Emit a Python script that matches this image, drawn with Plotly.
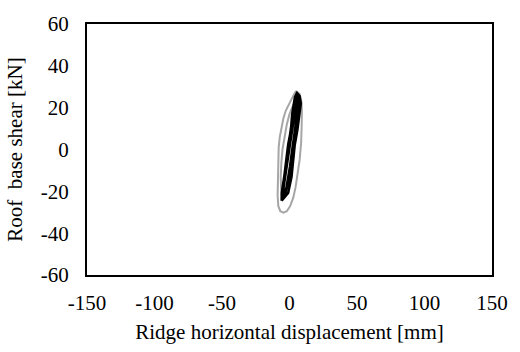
import plotly.graph_objects as go

# Outer gray hysteresis loop (displacement mm, shear kN)
gray_disp = [5.0, 7.5, 8.8, 9.2, 9.0, 8.6, 7.5, 6.0, 4.5, 2.8, 0.5, -2.0, -4.5, -6.8, -8.3, -8.8,
             -8.7, -8.5, -8.0, -7.2, -6.0, -4.5, -2.8, -1.0, 1.0, 3.0, 4.3, 5.0,
             None,
             2.5, 0.0, -2.0, -3.8, -5.2, -6.0, -6.5, -6.2, -5.0, -3.0, -0.5, 2.0, 4.0, 5.5, 6.2, 5.5, 3.8, 2.5]
gray_shear = [28.0, 26.5, 23.0, 18.0, 11.0, 3.0, -5.0, -12.0, -18.0, -23.0, -27.0, -29.5, -30.2, -29.5, -27.0, -22.0,
              -14.0, -6.0, 1.0, 6.0, 10.5, 15.0, 18.5, 21.0, 23.5, 26.0, 27.5, 28.0,
              None,
              21.0, 17.0, 12.0, 6.0, 0.0, -6.0, -13.0, -19.0, -23.5, -22.0, -15.0, -6.0, 3.0, 11.0, 17.0, 21.0, 22.5, 21.0]

# Black hysteresis loops
black_disp = [-5.8, -1.0, 1.5, 3.9, 5.8, 7.5, 8.4, 7.5, 5.5, 4.0, 2.0, 1.0, -1.0, -3.9, -5.8, -5.8,
              -4.6, -1.8, 0.6, 2.8, 4.8, 6.6, 7.6, 6.8, 5.0, 3.4, 1.6, 0.2, -1.8, -3.4, -4.8, -5.4,
              -3.2, -0.6, 1.2, 3.2, 5.2, 6.8, 7.2, 5.8, 4.2, 2.6, 0.8, -0.6, -2.6, -4.2, -5.2,
              -2.4, 0.0, 2.2, 4.0, 5.6, 7.0, 8.0, 6.4, 4.6, 3.0, 1.4, -0.2, -2.2, -3.8, -5.0,
              -3.0, -1.2, 0.4, 1.8, 3.0, 4.6, 6.0, 7.0, 6.0, 4.4, 2.4, 0.6, -1.2, -2.8, -4.4, -5.6]
black_shear = [-24.5, -20.8, -13.0, 2.3, 9.2, 17.0, 22.0, 25.5, 27.0, 25.0, 17.0, 9.2, 2.3, -13.0, -20.8, -24.5,
               -22.0, -18.0, -10.0, 0.0, 8.0, 15.0, 21.0, 24.5, 25.5, 21.0, 13.0, 6.0, -2.0, -10.0, -17.0, -23.0,
               -20.5, -15.5, -7.0, 2.0, 10.0, 17.0, 22.5, 24.5, 20.0, 13.0, 5.0, -1.5, -9.0, -15.0, -21.5,
               -18.5, -12.0, -3.0, 4.5, 11.5, 18.5, 23.5, 26.0, 20.5, 13.5, 6.5, -1.0, -7.5, -13.0, -19.0,
               -21.0, -15.0, -8.0, -1.0, 5.0, 12.0, 18.5, 23.0, 24.0, 19.0, 11.0, 3.5, -4.0, -11.0, -18.0, -23.5]

x_ticks = [-150, -100, -50, 0, 50, 100, 150]
y_ticks = [-60, -40, -20, 0, 20, 40, 60]

FONT = "Liberation Serif"
FS = 21

fig = go.Figure()
fig.add_trace(go.Scatter(x=gray_disp, y=gray_shear, mode="lines",
                         line=dict(color="#a6a6a6", width=2), connectgaps=False, showlegend=False))
fig.add_trace(go.Scatter(x=black_disp, y=black_shear, mode="lines",
                         line=dict(color="#000000", width=2.5), showlegend=False))

fig.update_layout(
    width=520, height=352,
    margin=dict(l=87, r=21, t=15, b=77),
    paper_bgcolor="white", plot_bgcolor="white",
    font=dict(family=FONT, size=FS, color="black"),
    showlegend=False,
)
fig.update_xaxes(range=[-150, 150], tickvals=x_ticks, ticktext=[str(v) for v in x_ticks],
                 tickfont=dict(family=FONT, size=FS, color="black"),
                 showgrid=False, zeroline=False, showline=True, linecolor="black", linewidth=2,
                 mirror=True, ticks="", ticklabelstandoff=8,
                 title=dict(text="Ridge horizontal displacement [mm]", standoff=10,
                            font=dict(family=FONT, size=FS, color="black")))
fig.update_yaxes(range=[-60, 60], tickvals=y_ticks, ticktext=[str(v) for v in y_ticks],
                 tickfont=dict(family=FONT, size=FS, color="black"),
                 showgrid=False, zeroline=False, showline=True, linecolor="black", linewidth=2,
                 mirror=True, ticks="", ticklabelstandoff=12,
                 title=dict(text="Roof\u00a0 base shear [kN]", standoff=12,
                            font=dict(family=FONT, size=FS, color="black")))

fig.write_html("out.html")
